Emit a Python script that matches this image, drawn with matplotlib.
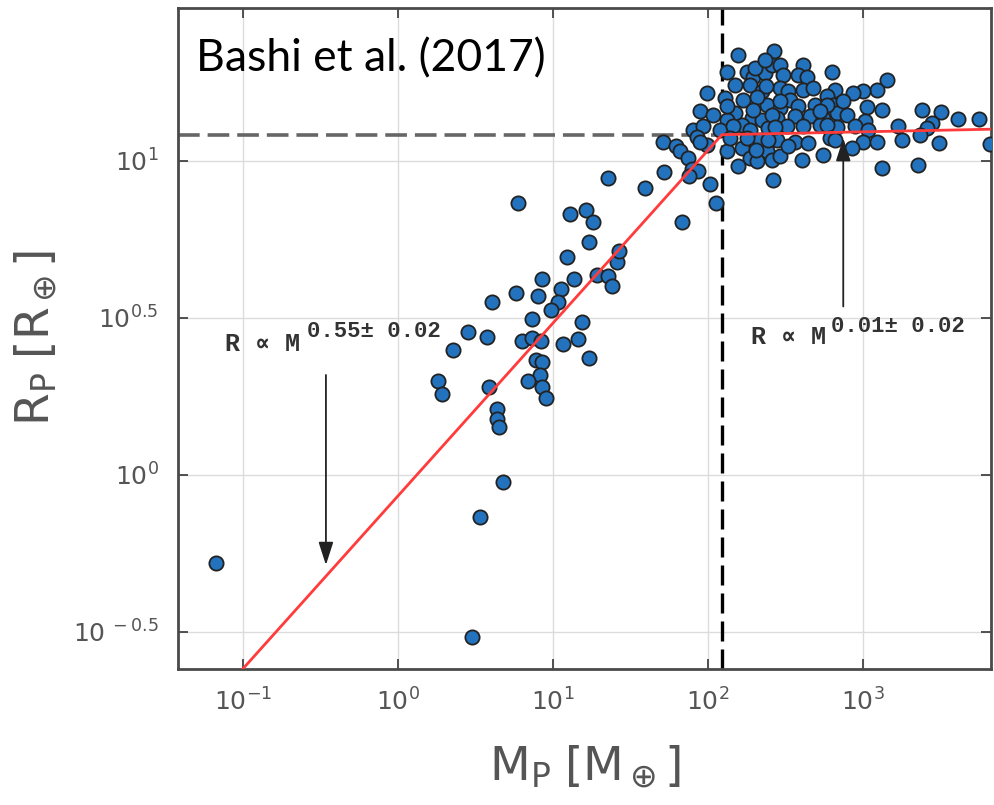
import numpy as np
import matplotlib
matplotlib.use("Agg")
import matplotlib.pyplot as plt
from matplotlib.ticker import FixedLocator, FixedFormatter, NullLocator

plt.rcParams['mathtext.fontset'] = 'custom'
plt.rcParams['mathtext.rm'] = 'Liberation Sans'
plt.rcParams['mathtext.it'] = 'Liberation Sans'
plt.rcParams['mathtext.bf'] = 'Liberation Sans:bold'

# ---- data (log10 of planet mass [M_earth] and radius [R_earth]) ----
log_mass = [
    -1.176, 0.529, 0.675, 0.479, 0.642, 0.642, 0.652,
    0.776, 1.110, 1.211, 1.260, 1.234, 1.088, 1.411, 1.426, 0.927, 1.135,
    1.282, 1.357, 1.383, 1.052, 0.761, 0.901, 1.034, 0.987, 0.605, 0.863,
    1.185, 0.454, 0.576, 0.798, 0.863, 0.923, 1.063, 1.163, 0.357, 1.234,
    0.890, 0.927, 0.916, 0.841, 0.927, 0.953, 0.260, 0.282, 0.589,
    1.357, 1.594, 1.716, 1.708, 1.794, 1.819, 1.873, 1.895, 1.937, 1.879,
    2.013, 2.050, 1.830,
    2.195, 2.426, 2.121, 2.250, 2.292, 2.368, 2.411, 2.465, 2.486, 2.615,
    2.583, 2.637, 2.798, 2.271, 2.174, 1.992, 2.110, 2.228, 2.346, 2.465,
    2.518, 2.615, 2.679, 2.819, 2.766, 1.948, 2.034, 2.174, 2.282, 2.379,
    2.465, 2.529, 2.583, 2.690, 2.808, 2.121, 2.217, 2.346, 2.443, 2.561,
    2.658, 2.744, 2.832, 1.905, 1.970, 2.077, 2.163, 2.271, 2.389, 2.508,
    2.615, 2.723, 2.832, 1.927, 1.994, 2.121, 2.217, 2.271, 2.195, 2.335,
    2.379, 2.411, 2.465, 2.561, 2.647, 2.605, 2.744, 2.421, 2.142, 2.250,
    2.443, 2.314, 2.518,
    2.374, 2.316, 2.123, 2.290, 2.310, 1.948, 2.389, 2.465, 2.766, 2.413,
    2.723, 2.895, 2.432, 2.766, 2.787, 2.303, 2.368,
    3.153, 3.088, 3.002, 2.937, 2.873, 3.024, 3.121, 3.013, 2.948, 3.034,
    3.228, 3.379, 3.503, 3.611, 3.748, 3.443, 3.411, 3.250, 3.368, 3.490,
    3.820, 3.002, 3.088, 2.927, 2.819, 3.121, 3.353,
]
log_radius = [
    -0.279, -0.133, -0.023, -0.517, 0.210, 0.178, 0.153,
    0.865, 0.831, 0.844, 0.805, 0.740, 0.695, 0.679, 0.713, 0.624, 0.624,
    0.637, 0.632, 0.602, 0.592, 0.579, 0.568, 0.550, 0.525, 0.549, 0.497,
    0.488, 0.456, 0.440, 0.427, 0.435, 0.425, 0.416, 0.433, 0.396, 0.372,
    0.366, 0.359, 0.318, 0.299, 0.281, 0.244, 0.299, 0.257, 0.281,
    0.945, 0.913, 0.964, 1.060, 1.048, 1.030, 1.009, 0.974, 0.968, 0.950,
    0.927, 0.867, 0.805,
    1.338, 1.348, 1.284, 1.284, 1.268, 1.279, 1.306, 1.306, 1.274, 1.306,
    1.274, 1.268, 1.281, 1.242, 1.242, 1.216, 1.200, 1.194, 1.221, 1.232,
    1.221, 1.226, 1.232, 1.226, 1.205, 1.157, 1.146, 1.152, 1.136, 1.178,
    1.168, 1.194, 1.173, 1.178, 1.178, 1.131, 1.115, 1.131, 1.136, 1.141,
    1.141, 1.136, 1.153, 1.099, 1.109, 1.099, 1.109, 1.099, 1.104, 1.109,
    1.109, 1.115, 1.108, 1.077, 1.051, 1.030, 1.040, 1.009, 0.982, 1.067,
    1.030, 1.003, 1.014, 1.061, 1.056, 1.003, 1.019, 0.939, 1.072, 1.072,
    1.067, 0.998, 1.046,
    1.239, 1.204, 1.175, 1.162, 1.035, 1.061, 1.067, 1.191, 1.178, 1.146,
    1.159, 1.146, 1.108, 1.115, 1.073, 1.295, 1.322,
    1.258, 1.226, 1.221, 1.216, 1.189, 1.171, 1.160, 1.128, 1.109, 1.099,
    1.111, 1.160, 1.154, 1.133, 1.133, 1.120, 1.104, 1.067, 1.083, 1.058,
    1.054, 1.061, 1.061, 1.040, 1.067, 0.977, 0.987,
]

# broken power-law fit
fit_mass = [0.1, 123.0, 6760.0]
fit_radius = [0.2415, 12.1, 12.6]
break_mass = 123.0
break_radius = 12.1

xtick_values = [1e-1, 1e0, 1e1, 1e2, 1e3]
xtick_labels = [r'$\mathregular{10^{-1}}$', r'$\mathregular{10^{0}}$', r'$\mathregular{10^{1}}$',
                r'$\mathregular{10^{2}}$', r'$\mathregular{10^{3}}$']
ytick_values = [10**-0.5, 1.0, 10**0.5, 10.0]
ytick_labels = [r'$\mathregular{10^{\ -0.5}}$', r'$\mathregular{10^{0}}$',
                r'$\mathregular{10^{0.5}}$', r'$\mathregular{10^{1}}$']

mass = 10 ** np.array(log_mass)
radius = 10 ** np.array(log_radius)

fig = plt.figure(figsize=(9.95, 8.05), dpi=100)
ax = fig.add_axes([0.1789, 0.1689, 0.8171, 0.8211])
ax.set_xscale('log')
ax.set_yscale('log')
ax.set_xlim(10**-1.419, 10**3.826)
ax.set_ylim(10**-0.618, 10**1.486)

ax.xaxis.set_major_locator(FixedLocator(xtick_values))
ax.xaxis.set_major_formatter(FixedFormatter(xtick_labels))
ax.yaxis.set_major_locator(FixedLocator(ytick_values))
ax.yaxis.set_major_formatter(FixedFormatter(ytick_labels))
ax.xaxis.set_minor_locator(NullLocator())
ax.yaxis.set_minor_locator(NullLocator())

ax.grid(True, color='#dcdcdc', lw=1.0, zorder=0)
ax.set_axisbelow(True)
ax.tick_params(which='major', direction='in', length=7, width=1.3, color='#444444',
               top=True, right=True, labelsize=18, labelcolor='#555555', pad=14)
for s in ax.spines.values():
    s.set_linewidth(2.0)
    s.set_color('#4a4a4a')

# reference dashed lines
ax.plot([ax.get_xlim()[0], break_mass], [break_radius, break_radius], ls=(0, (6, 2.2)),
        color='#666666', lw=2.6, zorder=2)
ax.axvline(break_mass, ls=(0, (6, 2.4)), color='black', lw=2.4, zorder=2)

# data points
ax.scatter(mass, radius, s=105, facecolor='#2272bd', edgecolor='#222222', linewidths=1.3, zorder=3)

# fit line
ax.plot(fit_mass, fit_radius, color='#ff3b3b', lw=2.0, zorder=4)

# arrows and labels
arr = dict(arrowstyle='-|>,head_length=1.4,head_width=0.45', color='#222222', lw=1.3,
           shrinkA=0, shrinkB=0)
ax.annotate('', xy=(0.343, 10**-0.287), xytext=(0.343, 10**0.318), arrowprops=arr, zorder=5)
ax.annotate('', xy=(746, 10**1.072), xytext=(746, 10**0.536), arrowprops=arr, zorder=5)

mono = ['Liberation Mono', 'DejaVu Sans Mono', 'DejaVu Sans']
ax.text(10**-1.116, 10**0.417, 'R \u221d M', family=mono, weight='bold', fontsize=18,
        color='#333333', ha='left', va='center', zorder=6)
ax.text(10**-0.59, 10**0.455, '0.55\u00b1 0.02', family=mono, weight='bold', fontsize=16,
        color='#333333', ha='left', va='center', zorder=6)
ax.text(10**2.275, 10**0.439, 'R \u221d M', family=mono, weight='bold', fontsize=18,
        color='#333333', ha='left', va='center', zorder=6)
ax.text(10**2.794, 10**0.471, '0.01\u00b1 0.02', family=mono, weight='bold', fontsize=16,
        color='#333333', ha='left', va='center', zorder=6)

ax.text(0.022, 0.955, 'Bashi et al. (2017)', transform=ax.transAxes, family='Lato',
        fontsize=32, color='black', ha='left', va='top', zorder=7)

ax.set_xlabel(r'$\mathregular{M_P\ [M_\oplus]}$', fontsize=34, color='#555555', labelpad=20)
ax.set_ylabel(r'$\mathregular{R_P\ [R_\oplus]}$', fontsize=34, color='#555555', labelpad=10)

fig.savefig('out.png', dpi=100)
